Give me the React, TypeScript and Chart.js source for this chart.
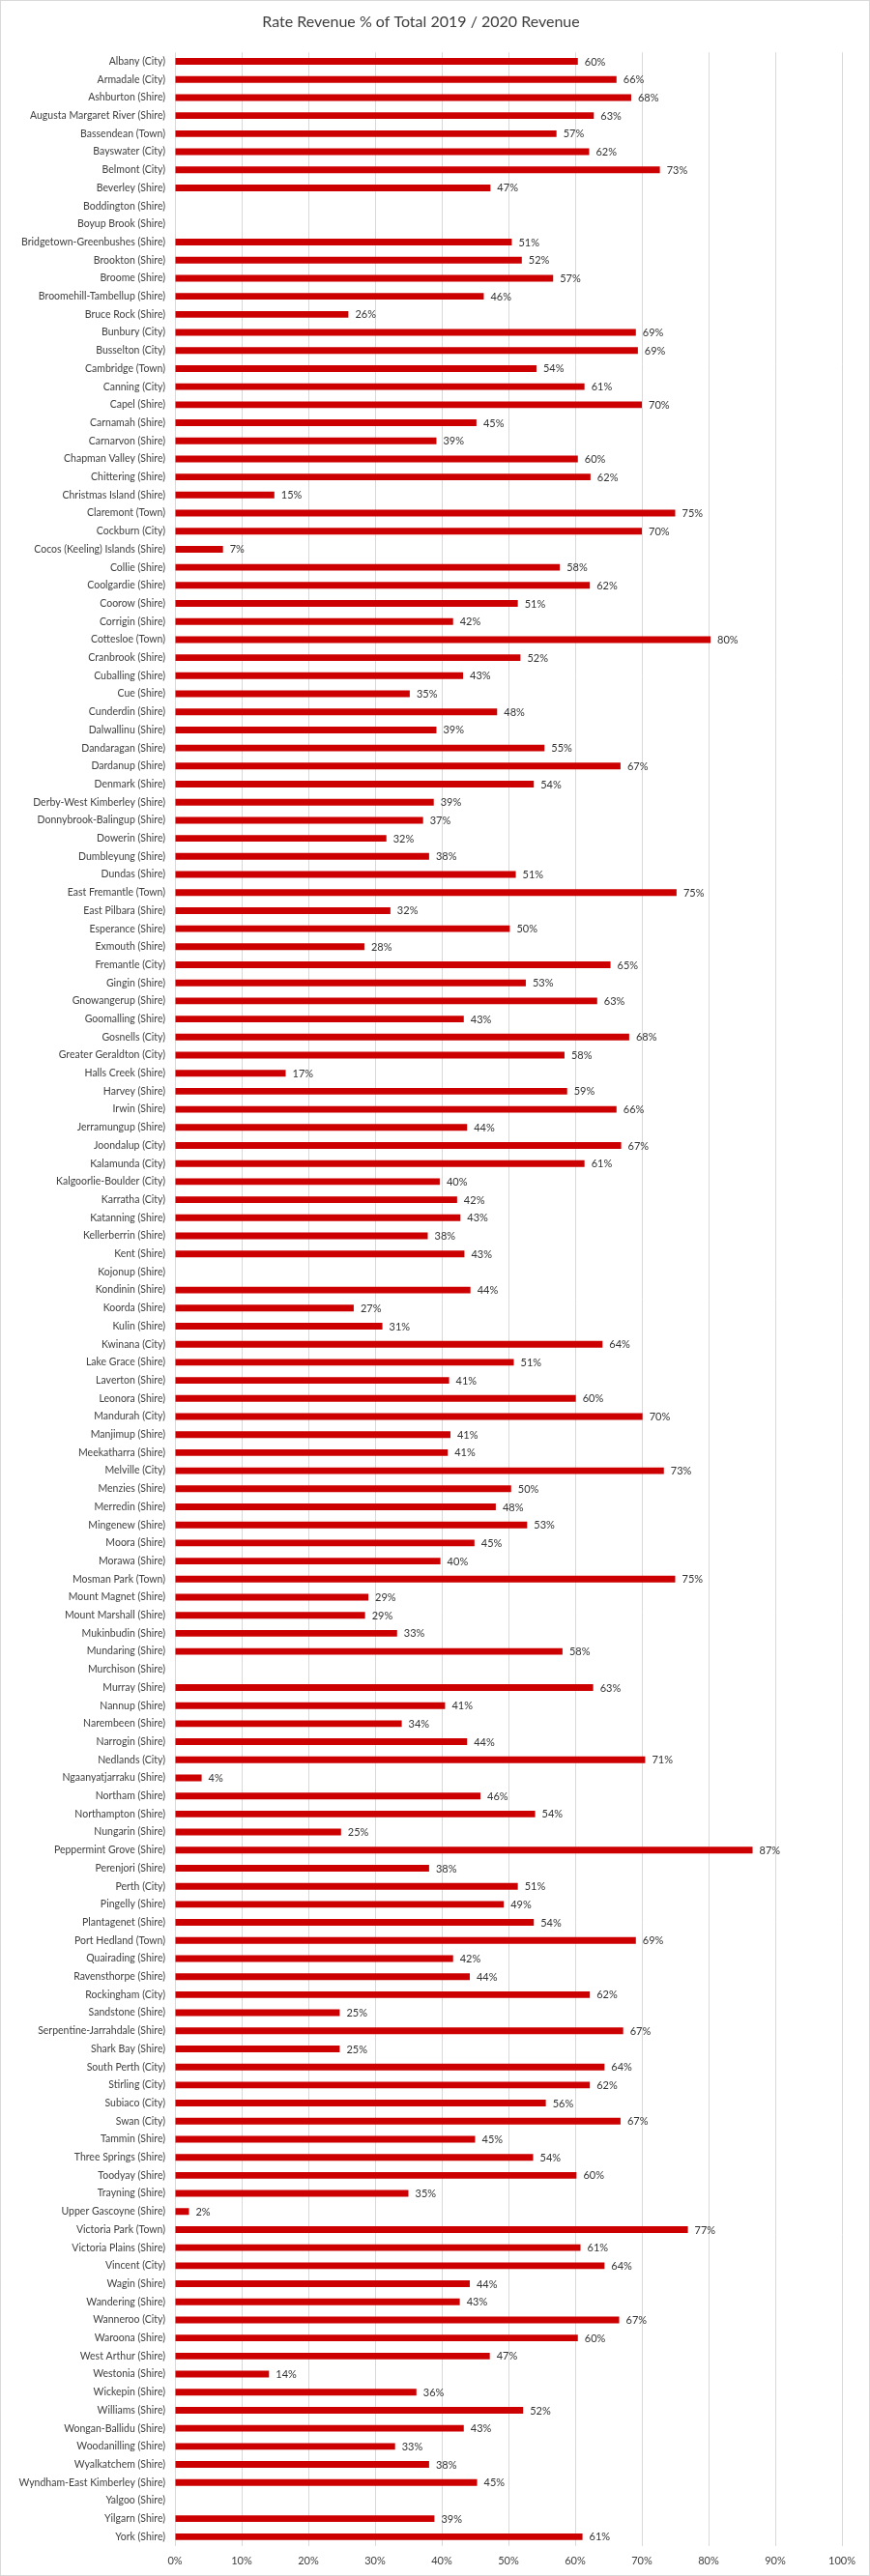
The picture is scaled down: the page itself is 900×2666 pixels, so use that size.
import React, { useEffect, useRef } from "react";
import { Chart, registerables } from "chart.js";

Chart.register(...registerables);

const chartTitle = "Rate Revenue % of Total 2019 / 2020 Revenue";

const categories: string[] = [
  "Albany (City)", "Armadale (City)", "Ashburton (Shire)", "Augusta Margaret River (Shire)", "Bassendean (Town)",
  "Bayswater (City)", "Belmont (City)", "Beverley (Shire)", "Boddington (Shire)", "Boyup Brook (Shire)",
  "Bridgetown-Greenbushes (Shire)", "Brookton (Shire)", "Broome (Shire)", "Broomehill-Tambellup (Shire)", "Bruce Rock (Shire)",
  "Bunbury (City)", "Busselton (City)", "Cambridge (Town)", "Canning (City)", "Capel (Shire)",
  "Carnamah (Shire)", "Carnarvon (Shire)", "Chapman Valley (Shire)", "Chittering (Shire)", "Christmas Island (Shire)",
  "Claremont (Town)", "Cockburn (City)", "Cocos (Keeling) Islands (Shire)", "Collie (Shire)", "Coolgardie (Shire)",
  "Coorow (Shire)", "Corrigin (Shire)", "Cottesloe (Town)", "Cranbrook (Shire)", "Cuballing (Shire)",
  "Cue (Shire)", "Cunderdin (Shire)", "Dalwallinu (Shire)", "Dandaragan (Shire)", "Dardanup (Shire)",
  "Denmark (Shire)", "Derby-West Kimberley (Shire)", "Donnybrook-Balingup (Shire)", "Dowerin (Shire)", "Dumbleyung (Shire)",
  "Dundas (Shire)", "East Fremantle (Town)", "East Pilbara (Shire)", "Esperance (Shire)", "Exmouth (Shire)",
  "Fremantle (City)", "Gingin (Shire)", "Gnowangerup (Shire)", "Goomalling (Shire)", "Gosnells (City)",
  "Greater Geraldton (City)", "Halls Creek (Shire)", "Harvey (Shire)", "Irwin (Shire)", "Jerramungup (Shire)",
  "Joondalup (City)", "Kalamunda (City)", "Kalgoorlie-Boulder (City)", "Karratha (City)", "Katanning (Shire)",
  "Kellerberrin (Shire)", "Kent (Shire)", "Kojonup (Shire)", "Kondinin (Shire)", "Koorda (Shire)",
  "Kulin (Shire)", "Kwinana (City)", "Lake Grace (Shire)", "Laverton (Shire)", "Leonora (Shire)",
  "Mandurah (City)", "Manjimup (Shire)", "Meekatharra (Shire)", "Melville (City)", "Menzies (Shire)",
  "Merredin (Shire)", "Mingenew (Shire)", "Moora (Shire)", "Morawa (Shire)", "Mosman Park (Town)",
  "Mount Magnet (Shire)", "Mount Marshall (Shire)", "Mukinbudin (Shire)", "Mundaring (Shire)", "Murchison (Shire)",
  "Murray (Shire)", "Nannup (Shire)", "Narembeen (Shire)", "Narrogin (Shire)", "Nedlands (City)",
  "Ngaanyatjarraku (Shire)", "Northam (Shire)", "Northampton (Shire)", "Nungarin (Shire)", "Peppermint Grove (Shire)",
  "Perenjori (Shire)", "Perth (City)", "Pingelly (Shire)", "Plantagenet (Shire)", "Port Hedland (Town)",
  "Quairading (Shire)", "Ravensthorpe (Shire)", "Rockingham (City)", "Sandstone (Shire)", "Serpentine-Jarrahdale (Shire)",
  "Shark Bay (Shire)", "South Perth (City)", "Stirling (City)", "Subiaco (City)", "Swan (City)",
  "Tammin (Shire)", "Three Springs (Shire)", "Toodyay (Shire)", "Trayning (Shire)", "Upper Gascoyne (Shire)",
  "Victoria Park (Town)", "Victoria Plains (Shire)", "Vincent (City)", "Wagin (Shire)", "Wandering (Shire)",
  "Wanneroo (City)", "Waroona (Shire)", "West Arthur (Shire)", "Westonia (Shire)", "Wickepin (Shire)",
  "Williams (Shire)", "Wongan-Ballidu (Shire)", "Woodanilling (Shire)", "Wyalkatchem (Shire)", "Wyndham-East Kimberley (Shire)",
  "Yalgoo (Shire)", "Yilgarn (Shire)", "York (Shire)",
];

// Rate revenue as % of total revenue (null = no data)
const rateRevenuePct: (number | null)[] = [
  60.4, 66.2, 68.4, 62.8, 57.2,
  62.1, 72.7, 47.3, null, null,
  50.5, 52.0, 56.7, 46.3, 26.0,
  69.1, 69.4, 54.2, 61.4, 70.0,
  45.2, 39.2, 60.4, 62.3, 14.9,
  75.0, 70.0, 7.2, 57.7, 62.2,
  51.4, 41.7, 80.3, 51.8, 43.2,
  35.2, 48.3, 39.2, 55.4, 66.8,
  53.8, 38.8, 37.2, 31.7, 38.1,
  51.1, 75.2, 32.3, 50.2, 28.4,
  65.3, 52.6, 63.3, 43.3, 68.1,
  58.4, 16.6, 58.8, 66.2, 43.8,
  66.9, 61.4, 39.7, 42.3, 42.8,
  37.9, 43.4, null, 44.3, 26.8,
  31.1, 64.1, 50.8, 41.1, 60.1,
  70.1, 41.3, 40.9, 73.3, 50.4,
  48.1, 52.8, 44.9, 39.8, 75.0,
  29.0, 28.5, 33.3, 58.1, null,
  62.7, 40.5, 34.0, 43.8, 70.5,
  4.0, 45.8, 54.0, 24.9, 86.6,
  38.1, 51.4, 49.3, 53.8, 69.1,
  41.7, 44.2, 62.2, 24.7, 67.2,
  24.7, 64.4, 62.2, 55.6, 66.8,
  45.0, 53.7, 60.2, 35.0, 2.1,
  76.9, 60.8, 64.4, 44.2, 42.7,
  66.6, 60.4, 47.2, 14.1, 36.2,
  52.2, 43.3, 33.0, 38.1, 45.3,
  null, 38.9, 61.1,
];

const xMin = 0;
const xMax = 100;
const xStep = 10;

const FONT = "Lato, 'Open Sans', sans-serif";
const TEXT = "#404040";

const frameAndLabels = {
  id: "frameAndLabels",
  beforeDraw(chart: any) {
    const { ctx, width, height } = chart;
    ctx.save();
    ctx.fillStyle = "#ffffff";
    ctx.fillRect(0, 0, width, height);
    ctx.restore();
  },
  afterDatasetsDraw(chart: any) {
    const ctx = chart.ctx;
    const meta = chart.getDatasetMeta(0);
    ctx.save();
    ctx.font = `11px ${FONT}`;
    ctx.fillStyle = "#333333";
    ctx.textAlign = "left";
    ctx.textBaseline = "middle";
    meta.data.forEach((bar: any, i: number) => {
      const v = rateRevenuePct[i];
      if (v == null || !isFinite(bar.x)) return;
      ctx.fillText(`${Math.round(v)}%`, bar.x + 7, bar.y + 0.5);
    });
    ctx.restore();
  },
  afterDraw(chart: any) {
    const { ctx, width, height } = chart;
    ctx.save();
    ctx.strokeStyle = "#d9d9d9";
    ctx.lineWidth = 1;
    ctx.strokeRect(0.5, 0.5, width - 1, height - 1);
    ctx.restore();
  },
};

export default function App() {
  const canvasRef = useRef<HTMLCanvasElement | null>(null);

  useEffect(() => {
    document.body.style.margin = "0";
    const canvas = canvasRef.current;
    if (!canvas) return;
    const chart = new Chart(canvas, {
      type: "bar",
      data: {
        labels: categories,
        datasets: [
          {
            data: rateRevenuePct as any,
            backgroundColor: "#cc0000",
            borderWidth: 0,
            categoryPercentage: 1,
            barPercentage: 0.37,
          },
        ],
      },
      options: {
        indexAxis: "y",
        animation: false,
        responsive: false,
        devicePixelRatio: 1,
        layout: { padding: { left: 0, right: 29, top: 0, bottom: 0 } },
        plugins: {
          legend: { display: false },
          tooltip: { enabled: false },
          title: {
            display: true,
            text: chartTitle,
            color: "#404040",
            font: { family: FONT, size: 16, weight: "normal" as any, lineHeight: 1.2 },
            padding: { top: 13, bottom: 22 },
          },
        },
        scales: {
          x: {
            min: xMin,
            max: xMax,
            ticks: {
              stepSize: xStep,
              callback: (v: any) => `${v}%`,
              color: TEXT,
              font: { family: FONT, size: 11 },
              padding: 9,
              maxRotation: 0,
            },
            grid: { color: "#d9d9d9", drawTicks: false },
            border: { display: false },
            afterFit: (s: any) => {
              s.height = 31.3;
            },
          },
          y: {
            ticks: {
              autoSkip: false,
              color: TEXT,
              font: { family: FONT, size: 10.5 },
              padding: 10,
            },
            grid: { display: false, drawTicks: false },
            border: { display: false },
            afterFit: (s: any) => {
              s.width = 181;
            },
          },
        },
      },
      plugins: [frameAndLabels],
    });
    return () => chart.destroy();
  }, []);

  return (
    <div style={{ width: 900, height: 2666 }}>
      <canvas ref={canvasRef} width={900} height={2666} style={{ display: "block" }} />
    </div>
  );
}
